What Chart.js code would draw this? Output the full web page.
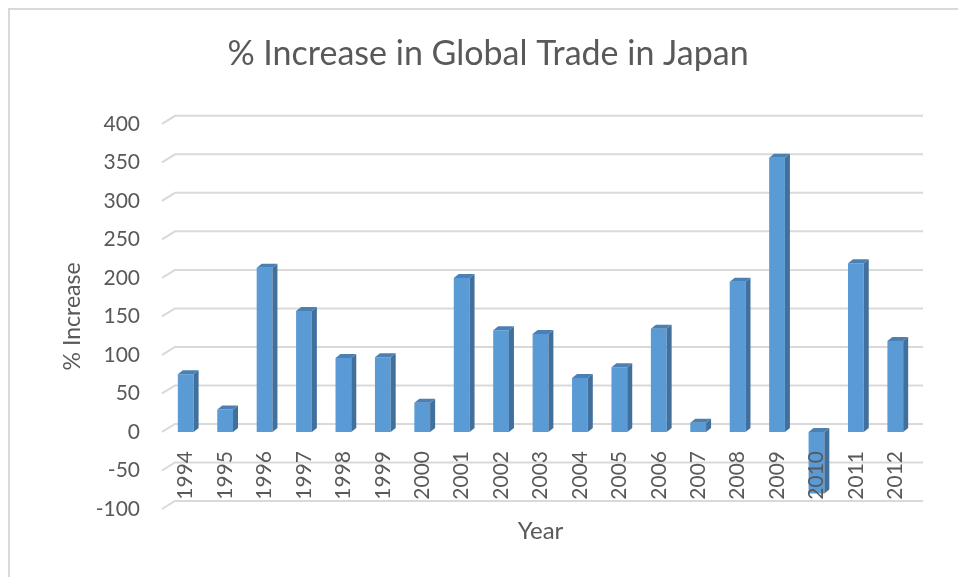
<!DOCTYPE html>
<html>
<head>
<meta charset="utf-8">
<script src="https://cdn.jsdelivr.net/npm/chart.js@4.4.1/dist/chart.umd.min.js"></script>
<style>
  html, body { margin: 0; padding: 0; background: #fff; }
  #wrap { width: 958px; height: 577px; position: relative; }
</style>
</head>
<body>
<div id="wrap"><canvas id="chart"></canvas></div>
<script>
// data
const years = ['1994', '1995', '1996', '1997', '1998', '1999', '2000', '2001', '2002', '2003',
  '2004', '2005', '2006', '2007', '2008', '2009', '2010', '2011', '2012'];
const increase = [75, 29, 213, 157, 96, 97, 38, 200, 132, 127, 70, 84, 134, 12, 195, 356, -80, 219, 118];
const yMin = -100;
const yMax = 400;
const yStep = 50;

const TEXT = '#595959';
const FONT = 'Lato, "Open Sans", sans-serif';

// fake excel 3d look: back wall grid + side/top faces of bars
const depth3d = {
  id: 'depth3d',
  beforeDraw(chart) {
    const { ctx, chartArea } = chart;
    const y = chart.scales.y;
    ctx.save();
    ctx.fillStyle = '#fff';
    ctx.fillRect(0, 0, chart.width, chart.height);
    ctx.strokeStyle = '#d9d9d9';
    ctx.lineWidth = 2;
    // outer chart border (only top/left visible in the picture)
    ctx.beginPath();
    ctx.moveTo(9, chart.height);
    ctx.lineTo(9, 9);
    ctx.lineTo(chart.width, 9);
    ctx.stroke();
    // grid on the back wall
    y.ticks.forEach(t => {
      const py = y.getPixelForValue(t.value);
      ctx.beginPath();
      ctx.moveTo(chartArea.left - 4, py);
      ctx.lineTo(chartArea.left + 9, py - 8);
      ctx.lineTo(chartArea.right + 8, py - 8);
      ctx.stroke();
    });
    ctx.restore();
  },
  afterDatasetsDraw(chart) {
    const ctx = chart.ctx;
    const dx = 5, dy = 4;
    ctx.save();
    chart.getDatasetMeta(0).data.forEach(bar => {
      const { x, y, base, width } = bar.getProps(['x', 'y', 'base', 'width'], true);
      const l = x - width / 2, r = x + width / 2;
      const top = Math.min(y, base), bot = Math.max(y, base);
      ctx.fillStyle = '#41709c';
      ctx.beginPath();
      ctx.moveTo(r, top);
      ctx.lineTo(r + dx, top - dy);
      ctx.lineTo(r + dx, bot - dy);
      ctx.lineTo(r, bot);
      ctx.closePath();
      ctx.fill();
      ctx.fillStyle = '#4a80b4';
      ctx.beginPath();
      ctx.moveTo(l, top);
      ctx.lineTo(l + dx, top - dy);
      ctx.lineTo(r + dx, top - dy);
      ctx.lineTo(r, top);
      ctx.closePath();
      ctx.fill();
    });
    ctx.restore();
  }
};

new Chart(document.getElementById('chart'), {
  type: 'bar',
  data: {
    labels: years,
    datasets: [{
      label: '% Increase',
      data: increase,
      backgroundColor: '#5b9bd5',
      borderWidth: 0,
      barPercentage: 0.4,
      categoryPercentage: 1
    }]
  },
  options: {
    responsive: true,
    maintainAspectRatio: false,
    animation: false,
    layout: { padding: { left: 61, top: 0, right: 43, bottom: 68 } },
    scales: {
      x: {
        position: { y: 0 },
        grid: { display: false, drawTicks: false },
        border: { display: false },
        ticks: {
          z: 1, // year labels sit on top of the bars (see 2010)
          color: TEXT, font: { family: FONT, size: 21 },
          minRotation: 90, maxRotation: 90, autoSkip: false, padding: 19
        },
        title: {
          display: true, text: 'Year', color: TEXT,
          font: { family: FONT, size: 24 }, padding: 0
        },
        afterFit(scale) { scale.height = 114; }
      },
      y: {
        min: yMin,
        max: yMax,
        grid: { display: false, drawTicks: false },
        border: { display: false },
        ticks: {
          stepSize: yStep, color: TEXT, font: { family: FONT, size: 21 }, padding: 26
        },
        title: {
          display: true, text: '% Increase', color: TEXT,
          font: { family: FONT, size: 23 }, padding: { top: -2, bottom: 0 }
        },
        afterFit(scale) { scale.width = 105; }
      }
    },
    plugins: {
      legend: { display: false },
      tooltip: { enabled: false },
      title: {
        display: true,
        text: '% Increase in Global Trade in Japan',
        color: TEXT,
        font: { family: FONT, size: 34, weight: 'normal' },
        padding: { top: 34, bottom: 49 }
      }
    }
  },
  plugins: [depth3d]
});
</script>
</body>
</html>
